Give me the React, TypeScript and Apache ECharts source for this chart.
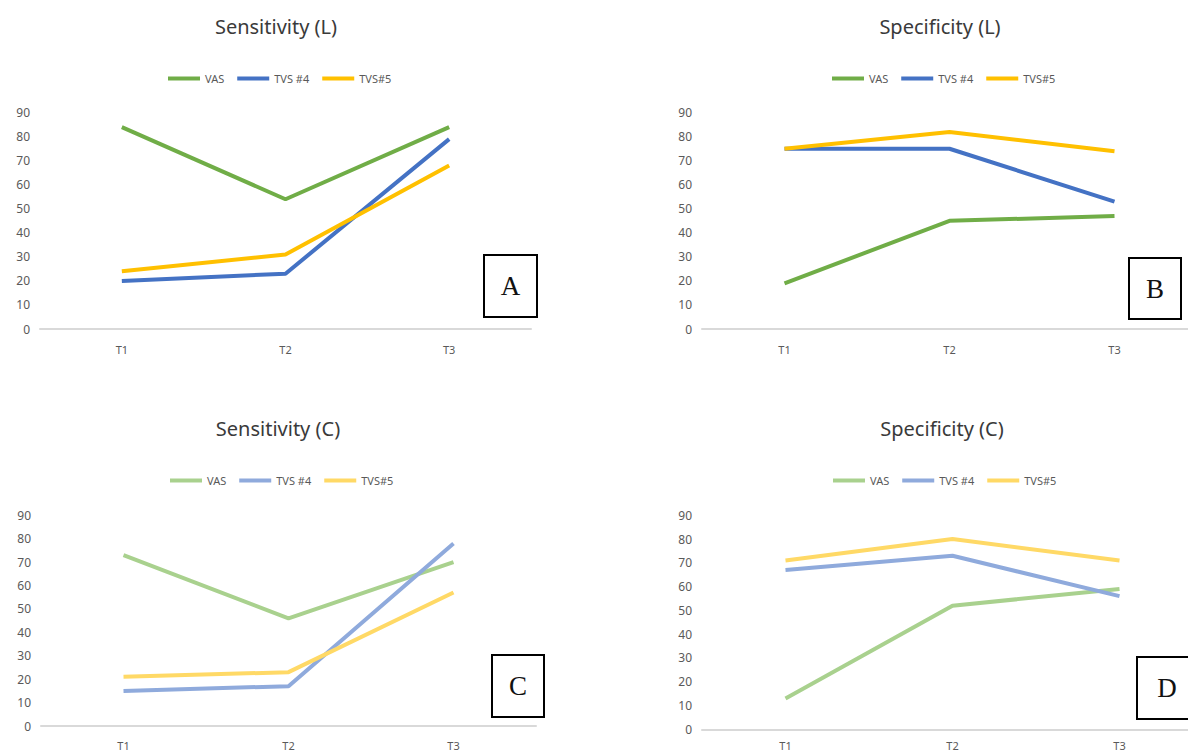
import { useEffect, useRef } from 'react';
import * as echarts from 'echarts';

const categories = ['T1', 'T2', 'T3'];
const seriesNames = ['VAS', 'TVS #4', 'TVS#5'];
const yMin = 0;
const yMax = 90;
const yInterval = 10;

const titles = ['Sensitivity (L)', 'Specificity (L)', 'Sensitivity (C)', 'Specificity (C)'];
const letters = ['A', 'B', 'C', 'D'];

const sensL_VAS = [84, 54, 84];
const sensL_TVS4 = [20, 23, 79];
const sensL_TVS5 = [24, 31, 68];

const specL_VAS = [19, 45, 47];
const specL_TVS4 = [75, 75, 53];
const specL_TVS5 = [75, 82, 74];

const sensC_VAS = [73, 46, 70];
const sensC_TVS4 = [15, 17, 78];
const sensC_TVS5 = [21, 23, 57];

const specC_VAS = [13, 52, 59];
const specC_TVS4 = [67, 73, 56];
const specC_TVS5 = [71, 80, 71];

const panelData = [
  [sensL_VAS, sensL_TVS4, sensL_TVS5],
  [specL_VAS, specL_TVS4, specL_TVS5],
  [sensC_VAS, sensC_TVS4, sensC_TVS5],
  [specC_VAS, specC_TVS4, specC_TVS5],
];

const darkColors = ['#70ad47', '#4472c4', '#ffc000'];
const lightColors = ['#a9d18e', '#8faadc', '#ffd966'];
const panelColors = [darkColors, darkColors, lightColors, lightColors];

// layout (pixels)
const layouts = [
  { left: 40, top: 112.7, width: 491, height: 216.3, xm: 15, titleX: 276, titleY: 16, legendX: 168, legendY: 73,
    box: { x: 484, y: 255, w: 53, h: 62 } },
  { left: 702, top: 112.7, width: 495, height: 216.3, xm: 15, titleX: 940, titleY: 16, legendX: 832, legendY: 73,
    box: { x: 1129, y: 258, w: 52, h: 61 } },
  { left: 41, top: 515.3, width: 495, height: 210.7, xm: 14, titleX: 278, titleY: 418, legendX: 170, legendY: 475,
    box: { x: 492, y: 655, w: 52, h: 62 } },
  { left: 702, top: 515.3, width: 501, height: 214, xm: 11, titleX: 942, titleY: 418, legendX: 833, legendY: 475,
    box: { x: 1137, y: 657, w: 60, h: 62 } },
];

const FONT = 'Noto Sans';

export default function App() {
  const ref = useRef<HTMLDivElement>(null);
  useEffect(() => {
    if (!ref.current) return;
    const chart = echarts.init(ref.current, undefined, { renderer: 'svg' });

    const option: any = {
      animation: false,
      backgroundColor: '#ffffff',
      title: layouts.map((l, i) => ({
        text: titles[i],
        left: l.titleX,
        top: l.titleY,
        textAlign: 'center',
        padding: 0,
        textStyle: { fontSize: 20, fontWeight: 'normal', color: '#3a3a3a', fontFamily: FONT },
      })),
      legend: layouts.map((l, i) => ({
        left: l.legendX,
        top: l.legendY,
        padding: 0,
        icon: 'rect',
        itemWidth: 32,
        itemHeight: 4,
        itemGap: 13,
        selectedMode: false,
        data: seriesNames.map((n, j) => ({ name: n, itemStyle: { color: panelColors[i][j] } })),
        textStyle: { fontSize: 11, color: '#595959', fontFamily: FONT },
      })),
      grid: layouts.map((l) => ({
        left: l.left,
        top: l.top,
        width: l.width,
        height: l.height,
        containLabel: false,
        outerBoundsMode: 'none',
      })),
      xAxis: layouts.map((l, i) => ({
        type: 'category',
        gridIndex: i,
        data: categories,
        boundaryGap: true,
        axisLine: { show: true, lineStyle: { color: '#d9d9d9', width: 2 } },
        axisTick: { show: false },
        splitLine: { show: false },
        axisLabel: { color: '#595959', fontSize: 11, margin: l.xm, fontFamily: FONT },
      })),
      yAxis: layouts.map((_l, i) => ({
        type: 'value',
        gridIndex: i,
        min: yMin,
        max: yMax,
        interval: yInterval,
        axisLine: { show: false },
        axisTick: { show: false },
        splitLine: { show: false },
        axisLabel: { color: '#595959', fontSize: 12, margin: 10, fontFamily: FONT },
      })),
      series: panelData.flatMap((group, i) =>
        group.map((vals, j) => ({
          type: 'line',
          name: seriesNames[j],
          xAxisIndex: i,
          yAxisIndex: i,
          data: vals,
          symbol: 'none',
          z: 2 + j,
          lineStyle: { width: 4, color: panelColors[i][j] },
          itemStyle: { color: panelColors[i][j] },
        }))
      ),
      graphic: layouts.map((l, i) => ({
        type: 'group',
        x: l.box.x,
        y: l.box.y,
        children: [
          {
            type: 'rect',
            shape: { x: 0, y: 0, width: l.box.w, height: l.box.h },
            style: { fill: '#ffffff', stroke: '#000000', lineWidth: 2 },
          },
          {
            type: 'text',
            x: i === 3 ? 30 : l.box.w / 2,
            y: l.box.h / 2,
            style: {
              text: letters[i],
              fontFamily: 'Liberation Serif',
              fontSize: 27,
              fill: '#111111',
              align: 'center',
              verticalAlign: 'middle',
            },
          },
        ],
      })),
    };

    chart.setOption(option);
    return () => chart.dispose();
  }, []);

  return (
    <div
      ref={ref}
      style={{ position: 'absolute', left: 0, top: 0, width: 1188, height: 755, overflow: 'hidden' }}
    />
  );
}
